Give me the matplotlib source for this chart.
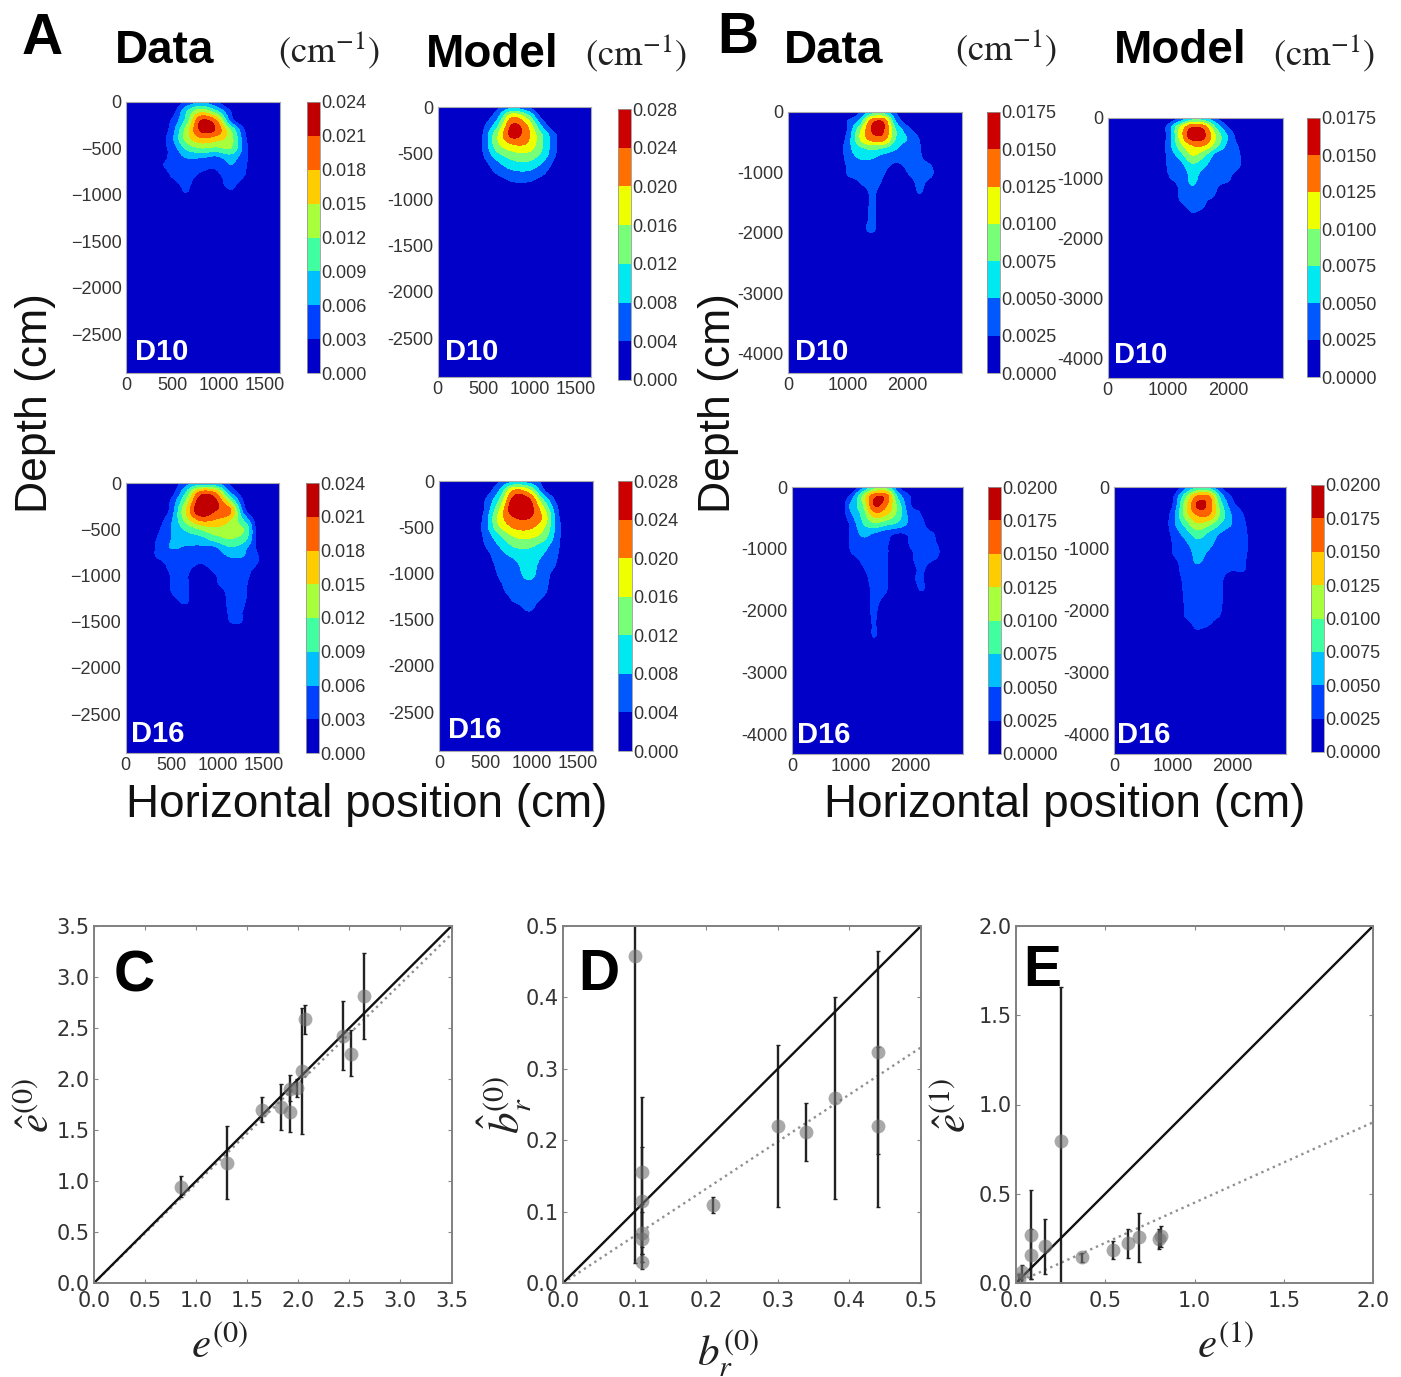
import matplotlib
matplotlib.use("Agg")
import matplotlib.pyplot as plt
import numpy as np

plt.rcParams['font.family'] = ['Liberation Sans', 'DejaVu Sans']

W, H = 1401, 1377

# contour grids, values in colour levels (1 level = one colorbar step)
a_cols = [325, 487, 650, 812, 975, 1137, 1300, 1462]
a_step = 100
b_cols = [800, 1000, 1200, 1400, 1600, 1800, 2000, 2200, 2400]
b_step = 150

a_data_d10 = [
    [0, 0, 1.2, 1.9, 1.1, 0, 0, 0],
    [0, 0.3, 2.8, 4.6, 3.2, 0.9, 0, 0],
    [0, 1.0, 3.3, 7.0, 6.0, 1.5, 0, 0],
    [0.1, 1.3, 4.3, 7.2, 6.8, 3.8, 0.7, 0],
    [0.2, 1.6, 4.3, 5.7, 5.3, 4.3, 1.0, 0],
    [0.7, 1.2, 3.1, 3.9, 3.7, 3.9, 1.2, 0],
    [0.8, 1.1, 2.0, 2.0, 1.7, 2.4, 1.1, 0],
    [0.8, 1.1, 1.4, 1.2, 1.1, 1.9, 1.0, 0],
    [0.3, 1.0, 1.2, 0.85, 0.8, 1.3, 0.9, 0],
    [0, 0.6, 1.1, 0.5, 0.7, 1.1, 0.5, 0],
    [0, 0.2, 0.9, 0.1, 0.1, 0.8, 0.1, 0],
]
a_model_d10 = [
    [0, 0, 0.8, 1.7, 1.1, 0, 0, 0],
    [0, 0.3, 1.6, 4.7, 3.4, 0.6, 0, 0],
    [0, 0.7, 2.7, 6.1, 5.0, 1.8, 0, 0],
    [0, 0.9, 3.8, 6.3, 5.3, 3.0, 0.9, 0],
    [0, 0.95, 3.7, 5.0, 4.9, 3.1, 0.95, 0],
    [0, 0.9, 2.8, 3.7, 3.9, 2.8, 0.9, 0],
    [0, 0.6, 1.8, 2.7, 2.9, 2.0, 0.6, 0],
    [0, 0.1, 1.2, 1.8, 1.9, 1.3, 0.2, 0],
    [0, 0, 0.4, 1.05, 1.1, 0.6, 0, 0],
    [0, 0, 0, 0.1, 0.1, 0, 0, 0],
]
a_data_d16 = [
    [0, 0.2, 1.5, 2.2, 2.0, 0.8, 0, 0],
    [0, 0.4, 2.8, 6.2, 5.8, 2.0, 0.3, 0],
    [0, 1.0, 3.9, 7.6, 7.3, 4.2, 0.7, 0],
    [0, 1.2, 4.8, 7.8, 7.0, 6.2, 1.2, 0],
    [0.3, 1.7, 4.2, 6.1, 5.9, 5.0, 2.7, 0],
    [0.6, 1.9, 3.1, 4.0, 4.7, 4.3, 3.8, 0],
    [0.9, 1.95, 2.4, 2.6, 3.5, 4.0, 3.3, 0.3],
    [1.0, 2.0, 1.9, 1.8, 1.8, 2.9, 2.2, 0.6],
    [0.95, 1.4, 1.4, 1.2, 1.3, 2.0, 1.9, 0.9],
    [0.2, 1.2, 1.2, 0.9, 1.2, 1.5, 1.3, 0.8],
    [0, 1.0, 1.1, 0.4, 0.95, 1.3, 1.2, 0.4],
    [0, 1.0, 1.2, 0, 0.85, 1.2, 1.1, 0.1],
    [0, 0.9, 1.2, 0, 0.3, 1.2, 1.1, 0],
    [0, 0.4, 1.05, 0, 0, 1.2, 1.0, 0],
    [0, 0, 0.2, 0, 0, 1.1, 0.9, 0],
    [0, 0, 0, 0, 0, 1.0, 0.9, 0],
    [0, 0, 0, 0, 0, 0.5, 0.6, 0],
]
a_model_d16 = [
    [0, 0, 0.9, 1.8, 1.4, 0.7, 0, 0],
    [0, 0.3, 1.9, 5.0, 4.2, 1.0, 0, 0],
    [0, 0.85, 2.9, 6.4, 6.1, 2.7, 0.4, 0],
    [0, 0.95, 3.8, 6.9, 6.5, 4.0, 0.8, 0],
    [0, 1.2, 4.3, 5.9, 6.0, 4.6, 1.0, 0],
    [0, 1.3, 3.8, 5.1, 5.2, 4.0, 1.2, 0],
    [0, 1.1, 2.7, 4.0, 4.2, 3.4, 1.1, 0],
    [0, 0.9, 2.0, 3.1, 3.2, 2.4, 1.0, 0],
    [0, 0.5, 1.6, 2.2, 2.5, 1.9, 0.9, 0],
    [0, 0.3, 1.3, 1.8, 2.3, 1.6, 0.8, 0],
    [0, 0.1, 1.1, 1.5, 2.3, 1.3, 0.6, 0],
    [0, 0, 0.9, 1.3, 1.85, 1.2, 0.5, 0],
    [0, 0, 0.7, 1.3, 1.5, 1.1, 0.2, 0],
    [0, 0, 0.1, 1.05, 1.3, 0.7, 0, 0],
    [0, 0, 0, 0.2, 1.05, 0.1, 0, 0],
]
b_data_d10 = [
    [0, 0, 0.9, 2.4, 2.5, 0.95, 0, 0, 0],
    [0, 1.0, 2.2, 5.5, 5.7, 1.9, 0.4, 0, 0],
    [0, 1.1, 3.7, 6.0, 6.0, 3.0, 1.4, 0.5, 0],
    [0, 1.4, 3.9, 5.3, 5.3, 2.9, 1.9, 0.95, 0],
    [0, 1.6, 2.7, 3.2, 2.9, 2.1, 1.3, 1.05, 0],
    [0, 1.4, 2.1, 2.1, 1.6, 1.3, 1.2, 1.1, 0.4],
    [0, 1.1, 1.5, 1.6, 1.2, 0.8, 1.1, 1.3, 1.0],
    [0, 1.0, 1.2, 1.3, 1.0, 0.3, 0.9, 1.3, 1.05],
    [0, 0.2, 0.9, 1.2, 0.8, 0, 0.3, 1.2, 0.4],
    [0, 0, 0.3, 1.1, 0.5, 0, 0, 1.0, 0],
    [0, 0, 0.2, 1.1, 0.4, 0, 0, 0.1, 0],
    [0, 0, 0.2, 1.15, 0.4, 0, 0, 0, 0],
    [0, 0, 0.3, 1.15, 0.2, 0, 0, 0, 0],
    [0, 0, 0.4, 1.2, 0, 0, 0, 0, 0],
    [0, 0, 0.1, 0.3, 0, 0, 0, 0, 0],
]
b_model_d10 = [
    [0, 0, 1.0, 2.4, 2.2, 1.0, 0, 0, 0],
    [0, 1.3, 3.9, 5.9, 5.4, 2.7, 0.9, 0, 0],
    [0, 1.2, 4.3, 6.6, 6.1, 3.8, 1.8, 0.3, 0],
    [0, 1.4, 3.6, 5.0, 5.0, 3.3, 1.6, 0.8, 0],
    [0, 1.2, 2.6, 4.1, 3.3, 1.7, 1.3, 0.95, 0],
    [0, 1.1, 1.7, 3.0, 2.3, 1.3, 1.2, 1.0, 0],
    [0, 1.0, 1.3, 2.3, 1.7, 1.2, 1.1, 0.8, 0],
    [0, 0.8, 1.2, 2.15, 1.4, 1.1, 1.0, 0.3, 0],
    [0, 0.2, 1.1, 1.8, 1.2, 1.0, 0.4, 0, 0],
    [0, 0, 1.05, 1.5, 1.1, 0.8, 0, 0, 0],
    [0, 0, 0.5, 1.2, 0.9, 0.1, 0, 0, 0],
    [0, 0, 0, 0.7, 0.2, 0, 0, 0, 0],
]
b_data_d16 = [
    [0, 0, 1.6, 3.5, 3.5, 1.1, 0, 0, 0],
    [0, 1.3, 4.1, 6.7, 6.5, 2.6, 1.0, 0, 0],
    [0, 2.2, 3.8, 7.0, 6.0, 3.6, 1.1, 0.7, 0],
    [0, 1.8, 3.3, 5.4, 5.0, 3.5, 1.6, 0.95, 0],
    [0, 1.2, 2.9, 3.7, 3.2, 2.7, 1.7, 1.2, 0.3],
    [0, 1.1, 2.2, 1.9, 1.4, 0.95, 1.1, 1.2, 1.0],
    [0, 1.1, 1.7, 1.5, 1.1, 0.6, 1.05, 1.3, 1.2],
    [0, 1.0, 1.3, 1.2, 1.1, 0.2, 0.9, 1.2, 1.8],
    [0, 0.5, 1.1, 1.2, 1.1, 0, 0.8, 1.2, 0.9],
    [0, 0, 0.9, 1.1, 1.1, 0, 0.6, 1.1, 0.3],
    [0, 0, 0.8, 1.1, 1.1, 0, 0.7, 1.1, 0],
    [0, 0, 0.7, 1.1, 1.05, 0, 0.1, 1.1, 0],
    [0, 0, 0.6, 1.1, 0.8, 0, 0, 0.4, 0],
    [0, 0, 0.6, 1.1, 0.4, 0, 0, 0, 0],
    [0, 0, 0.5, 1.05, 0.2, 0, 0, 0, 0],
    [0, 0, 0.3, 1.05, 0, 0, 0, 0, 0],
    [0, 0, 0.2, 1.05, 0, 0, 0, 0, 0],
    [0, 0, 0.1, 0.7, 0, 0, 0, 0, 0],
]
b_model_d16 = [
    [0, 0, 1.6, 2.8, 2.6, 0.9, 0, 0, 0],
    [0, 0.9, 3.5, 6.0, 6.0, 2.5, 0.8, 0, 0],
    [0, 1.1, 4.4, 7.1, 6.6, 3.4, 1.3, 0.6, 0],
    [0, 1.6, 4.3, 6.0, 6.0, 3.7, 1.8, 0.9, 0],
    [0, 1.7, 3.3, 4.8, 4.2, 2.9, 1.9, 1.1, 0],
    [0.1, 1.3, 2.4, 3.5, 2.8, 1.9, 1.4, 1.2, 0],
    [0, 1.1, 1.8, 2.7, 2.3, 1.5, 1.3, 1.25, 0],
    [0, 1.05, 1.4, 2.3, 1.9, 1.3, 1.2, 1.2, 0],
    [0, 0.8, 1.3, 2.1, 1.6, 1.2, 1.1, 1.05, 0],
    [0, 0.6, 1.3, 1.7, 1.4, 1.15, 1.0, 1.0, 0],
    [0, 0.4, 1.2, 1.5, 1.3, 1.1, 0.5, 0.4, 0],
    [0, 0.2, 1.15, 1.3, 1.25, 1.1, 0, 0, 0],
    [0, 0, 1.1, 1.25, 1.2, 1.1, 0, 0, 0],
    [0, 0, 1.05, 1.2, 1.2, 1.05, 0, 0, 0],
    [0, 0, 1.0, 1.2, 1.2, 0.9, 0, 0, 0],
    [0, 0, 0.6, 1.1, 0.95, 0.3, 0, 0, 0],
    [0, 0, 0.6, 0.7, 0.2, 0, 0, 0, 0],
]

cbar_024 = ['0.000', '0.003', '0.006', '0.009', '0.012', '0.015', '0.018', '0.021', '0.024']
cbar_028 = ['0.000', '0.004', '0.008', '0.012', '0.016', '0.020', '0.024', '0.028']
cbar_0175 = ['0.0000', '0.0025', '0.0050', '0.0075', '0.0100', '0.0125', '0.0150', '0.0175']
cbar_0200 = cbar_0175 + ['0.0200']

# scatter panels: x, y, lower and upper end of the error bar
c_x = [0.85, 1.30, 1.64, 1.83, 1.92, 1.92, 1.99, 2.04, 2.07, 2.44, 2.52, 2.64]
c_y = [0.94, 1.18, 1.70, 1.73, 1.68, 1.90, 1.91, 2.08, 2.59, 2.42, 2.25, 2.81]
c_lo = [0.84, 0.82, 1.58, 1.50, 1.48, 1.78, 1.82, 1.46, 2.44, 2.09, 2.03, 2.39]
c_hi = [1.05, 1.54, 1.82, 1.95, 1.88, 2.04, 2.00, 2.70, 2.73, 2.76, 2.48, 3.24]
c_fit = 3.42 / 3.5

d_x = [0.10, 0.11, 0.11, 0.11, 0.11, 0.11, 0.21, 0.30, 0.34, 0.38, 0.44, 0.44]
d_y = [0.458, 0.155, 0.115, 0.07, 0.062, 0.03, 0.109, 0.22, 0.211, 0.259, 0.323, 0.22]
d_lo = [0.028, 0.05, 0.04, 0.03, 0.03, 0.02, 0.098, 0.106, 0.171, 0.118, 0.181, 0.107]
d_hi = [0.52, 0.26, 0.19, 0.11, 0.10, 0.04, 0.121, 0.334, 0.252, 0.401, 0.465, 0.33]
d_fit = 0.33 / 0.5

e_x = [0.015, 0.035, 0.085, 0.085, 0.16, 0.25, 0.37, 0.545, 0.625, 0.69, 0.80, 0.815]
e_y = [0.02, 0.06, 0.27, 0.155, 0.205, 0.795, 0.145, 0.185, 0.225, 0.255, 0.245, 0.265]
e_lo = [0.0, 0.0, 0.02, 0.02, 0.05, 0.0, 0.12, 0.135, 0.14, 0.12, 0.19, 0.20]
e_hi = [0.05, 0.10, 0.52, 0.30, 0.36, 1.66, 0.17, 0.235, 0.305, 0.39, 0.30, 0.32]
e_fit = 0.9 / 2.0

colors_8 = ['#0000c8', '#0040ff', '#00bfff', '#40ffa0', '#a8ff3c', '#ffcc00', '#ff6000', '#c00000']
colors_7 = ['#0000c8', '#0058ff', '#00e8f0', '#78ff78', '#eeff00', '#ff7000', '#cc0000']
text_col = '#333333'


def px_axes(l, t, r, b):
    return fig.add_axes([l / W, 1 - b / H, (r - l) / W, (b - t) / H])


def px_text(x, y, s, **kw):
    kw.setdefault('ha', 'left')
    kw.setdefault('va', 'center')
    fig.text(x / W, 1 - y / H, s, **kw)


def catmull(z, n=8):
    p = np.pad(z, ((1, 1), (0, 0)), mode='edge')
    out = []
    for i in range(1, len(z)):
        p0, p1, p2, p3 = p[i - 1], p[i], p[i + 1], p[i + 2]
        for s in np.linspace(0, 1, n, endpoint=False):
            out.append(0.5 * (2 * p1 + (p2 - p0) * s + (2 * p0 - 5 * p1 + 4 * p2 - p3) * s**2
                              + (3 * p1 - p0 - 3 * p2 + p3) * s**3))
    out.append(z[-1])
    return np.array(out)


def contour_panel(grid, cols, step, box, cbox, cbar_labels, colors, xlim, ylim, xticks, yticks, yfmt, tag, tagpos):
    dx = cols[1] - cols[0]
    z = np.array(grid, dtype=float)
    z = np.pad(z, ((0, 2), (1, 1)))
    x = np.r_[cols[0] - dx, cols, cols[-1] + dx]
    y = -step * np.arange(z.shape[0])
    zs = catmull(catmull(z).T).T
    xs = np.linspace(x[0], x[-1], zs.shape[1])
    ys = np.linspace(y[0], y[-1], zs.shape[0])
    n = len(colors)
    zs = np.clip(zs, 0, n - 0.01)
    ax = px_axes(*box)
    ax.set_facecolor(colors[0])
    cf = ax.contourf(xs, ys, zs, levels=np.arange(n + 1), colors=colors)
    ax.set_xlim(0, xlim)
    ax.set_ylim(-ylim, 0)
    ax.set_xticks(xticks)
    ax.set_yticks([-v for v in yticks])
    ax.set_yticklabels([yfmt + str(v) if v else '0' for v in yticks])
    ax.tick_params(length=0, labelsize=13, labelcolor=text_col, pad=3)
    for s in ax.spines.values():
        s.set_color('#aaaaaa')
        s.set_linewidth(0.8)
    cax = px_axes(*cbox)
    cb = fig.colorbar(cf, cax=cax, ticks=np.arange(n + 1))
    cb.set_ticklabels(cbar_labels)
    cax.tick_params(length=0, labelsize=13, labelcolor=text_col, pad=1)
    cb.outline.set_edgecolor('#999999')
    cb.outline.set_linewidth(0.6)
    px_text(tagpos[0], tagpos[1], tag, color='white', fontsize=21, fontweight='bold')


def scatter_panel(box, xs, ys, lo, hi, fit, lim, ticks, fmt):
    ax = px_axes(*box)
    xs, ys, lo, hi = map(np.array, (xs, ys, lo, hi))
    ax.plot([0, lim], [0, lim * fit], color='#909090', ls=':', lw=1.7)
    ax.errorbar(xs, ys, yerr=[ys - lo, hi - ys], fmt='none', ecolor='#222222', elinewidth=1.7, capsize=1.5)
    ax.plot([0, lim], [0, lim], color='#111111', lw=1.7)
    ax.plot(xs, ys, 'o', color='#707070', alpha=0.6, ms=10, mew=0)
    ax.set_xlim(0, lim)
    ax.set_ylim(0, lim)
    ax.set_xticks(ticks)
    ax.set_yticks(ticks)
    ax.set_xticklabels([fmt % t for t in ticks])
    ax.set_yticklabels([fmt % t for t in ticks])
    ax.tick_params(direction='in', top=True, right=True, length=3, width=0.8, color='#888888',
                   labelsize=15, labelcolor=text_col, labelfontfamily='DejaVu Sans', pad=3)
    ax.tick_params(axis='x', pad=6)
    for s in ax.spines.values():
        s.set_color('#808080')
        s.set_linewidth(1.4)


fig = plt.figure(figsize=(W / 100, H / 100), dpi=100)

a_xt = [0, 500, 1000, 1500]
a_yt = [0, 500, 1000, 1500, 2000, 2500]
b_xt = [0, 1000, 2000]
b_yt = [0, 1000, 2000, 3000, 4000]

contour_panel(a_data_d10, a_cols, a_step, (126, 102, 280, 373), (307, 102, 320, 373), cbar_024, colors_8,
              1665, 2920, a_xt, a_yt, '\u2212', 'D10', (135, 352))
contour_panel(a_model_d10, a_cols, a_step, (437.5, 107, 590.5, 377), (617.5, 109, 631, 380), cbar_028, colors_7,
              1665, 2920, a_xt, a_yt, '-', 'D10', (445, 352))
contour_panel(a_data_d16, a_cols, a_step, (125.5, 483, 278.5, 753), (305.5, 483, 319, 753), cbar_024, colors_8,
              1665, 2920, a_xt, a_yt, '\u2212', 'D16', (131, 734))
contour_panel(a_model_d16, a_cols, a_step, (439, 481, 593, 751), (618, 481, 632, 751), cbar_028, colors_7,
              1665, 2920, a_xt, a_yt, '-', 'D16', (448, 730))
contour_panel(b_data_d10, b_cols, b_step, (788, 112, 961.5, 373), (987, 112, 1000, 373), cbar_0175, colors_7,
              2900, 4320, b_xt, b_yt, '-', 'D10', (795, 352))
contour_panel(b_model_d10, b_cols, b_step, (1107.5, 118, 1283, 378), (1307, 118, 1320, 377), cbar_0175, colors_7,
              2900, 4320, b_xt, b_yt, '-', 'D10', (1114, 355))
contour_panel(b_data_d16, b_cols, b_step, (792, 487, 963, 754), (988, 487, 1000.5, 754), cbar_0200, colors_8,
              2900, 4320, b_xt, b_yt, '-', 'D16', (797, 735))
contour_panel(b_model_d16, b_cols, b_step, (1114, 487, 1286, 754), (1311, 485, 1324, 752), cbar_0200, colors_8,
              2900, 4320, b_xt, b_yt, '-', 'D16', (1117, 735))

scatter_panel((94, 926, 451.5, 1283), c_x, c_y, c_lo, c_hi, c_fit, 3.5, np.arange(0, 3.6, 0.5), '%.1f')
scatter_panel((563, 926, 921, 1283), d_x, d_y, d_lo, d_hi, d_fit, 0.5, np.arange(0, 0.51, 0.1), '%.1f')
scatter_panel((1016, 926, 1373, 1283), e_x, e_y, e_lo, e_hi, e_fit, 2.0, np.arange(0, 2.1, 0.5), '%.1f')

# headings
cm = r'$(\mathrm{cm}^{-1})$'
for x, y, s in [(22, 39, 'A'), (717, 38, 'B'), (114, 976, 'C'), (578, 975, 'D'), (1023, 971, 'E')]:
    px_text(x, y, s, fontsize=41, fontweight='bold', color='black')
for x, y, s in [(115, 51, 'Data'), (426, 55, 'Model'), (784, 51, 'Data'), (1114, 51, 'Model')]:
    px_text(x, y, s, fontsize=33, fontweight='bold', color='black')
for x, y in [(278, 50), (585, 53), (955, 48), (1273, 53)]:
    px_text(x, y, cm, fontsize=26.5, color='#222222', math_fontfamily='stix')
for x in [36, 719]:
    px_text(x, 403, 'Depth (cm)', fontsize=32, rotation=90, ha='center', color='#111111')
for x in [367, 1065]:
    px_text(x, 805, 'Horizontal position (cm)', fontsize=33, ha='center', color='#111111')

# axis labels of the scatter panels
lab = dict(fontsize=31, ha='center', color='#222222', math_fontfamily='stix')
px_text(220, 1347, r'$e^{(0)}$', **lab)
px_text(38, 1105, r'$\hat{e}^{(0)}$', rotation=90, **lab)
px_text(728, 1353, r'$b_r^{(0)}$', **lab)
px_text(505, 1105, r'$\hat{b}_r^{(0)}$', rotation=90, **lab)
px_text(1226, 1347, r'$e^{(1)}$', **lab)
px_text(955, 1105, r'$\hat{e}^{(1)}$', rotation=90, **lab)

fig.savefig('out.png', dpi=100)
